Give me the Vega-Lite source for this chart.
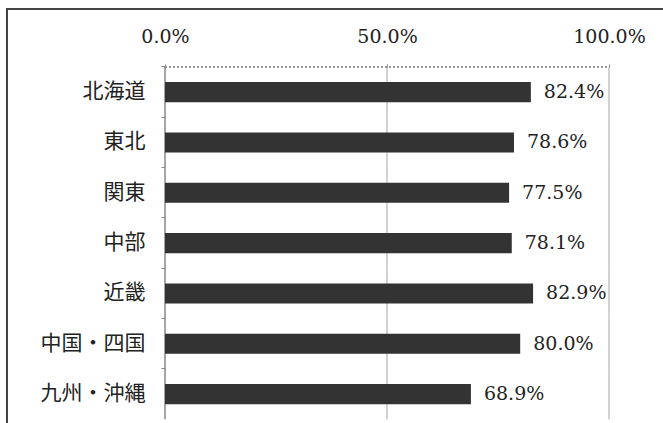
{
  "$schema": "https://vega.github.io/schema/vega-lite/v6.json",
  "width": 659,
  "height": 417,
  "autosize": {"type": "none"},
  "padding": {"left": 7, "top": 9, "right": -3, "bottom": -3},
  "background": "white",
  "config": {"view": {"stroke": "#444", "strokeWidth": 2}, "font": "DejaVu Serif"},
  "data": {"values": [
    {"region": "北海道", "rate": 0.824},
    {"region": "東北", "rate": 0.786},
    {"region": "関東", "rate": 0.775},
    {"region": "中部", "rate": 0.781},
    {"region": "近畿", "rate": 0.829},
    {"region": "中国・四国", "rate": 0.800},
    {"region": "九州・沖縄", "rate": 0.689}
  ]},
  "layer": [
    {
      "mark": {"type": "rect", "fillOpacity": 0, "stroke": "#c4c4c4", "strokeWidth": 1},
      "encoding": {
        "x": {"datum": 0.5, "type": "quantitative"},
        "x2": {"datum": 0.5},
        "y": {"field": "region", "type": "nominal", "sort": null}
      }
    },
    {
      "mark": {"type": "rect", "fillOpacity": 0, "stroke": "#c4c4c4", "strokeWidth": 1},
      "encoding": {
        "x": {"datum": 1, "type": "quantitative"},
        "x2": {"datum": 1},
        "y": {"field": "region", "type": "nominal", "sort": null}
      }
    },
    {
      "mark": {"type": "rect", "fillOpacity": 0, "stroke": "#888", "strokeWidth": 1},
      "encoding": {
        "x": {"datum": 0, "type": "quantitative"},
        "x2": {"datum": 0},
        "y": {"field": "region", "type": "nominal", "sort": null}
      }
    },
    {
      "mark": {"type": "rule", "stroke": "#999", "strokeWidth": 1, "strokeDash": [2, 2]},
      "encoding": {
        "x": {"datum": 0, "type": "quantitative"},
        "x2": {"datum": 1},
        "y": {"datum": "北海道", "type": "nominal", "bandPosition": 0}
      }
    },
    {
      "mark": {"type": "bar", "color": "#333", "height": {"band": 0.4}},
      "encoding": {
        "y": {
          "field": "region", "type": "nominal", "sort": null,
          "scale": {"paddingInner": 0, "paddingOuter": 0.643, "align": 0.896},
          "axis": {
            "title": null, "orient": "left", "offset": -158, "domain": false,
            "ticks": true, "tickSize": 4, "tickColor": "#888", "tickWidth": 1, "bandPosition": 0,
            "labelFont": "Noto Sans CJK JP", "labelFontSize": 21, "labelColor": "#222",
            "labelPadding": 16
          }
        },
        "x": {
          "field": "rate", "type": "quantitative",
          "scale": {"domain": [-0.35586, 1.12838], "nice": false, "zero": false},
          "axis": {
            "title": null, "orient": "top", "offset": -59, "values": [0, 0.5, 1], "format": ".1%",
            "domain": false, "grid": false, "ticks": true, "tickSize": 4, "tickColor": "#888",
            "labelFont": "DejaVu Serif", "labelFontSize": 19, "labelColor": "#222",
            "labelPadding": 18, "labelFlush": false, "labelOverlap": false
          }
        },
        "x2": {"datum": 0}
      }
    },
    {
      "mark": {"type": "text", "align": "left", "baseline": "middle", "dx": 13, "font": "DejaVu Serif", "fontSize": 19, "color": "#222"},
      "encoding": {
        "y": {"field": "region", "type": "nominal", "sort": null},
        "x": {"field": "rate", "type": "quantitative"},
        "text": {"field": "rate", "type": "quantitative", "format": ".1%"}
      }
    }
  ]
}
